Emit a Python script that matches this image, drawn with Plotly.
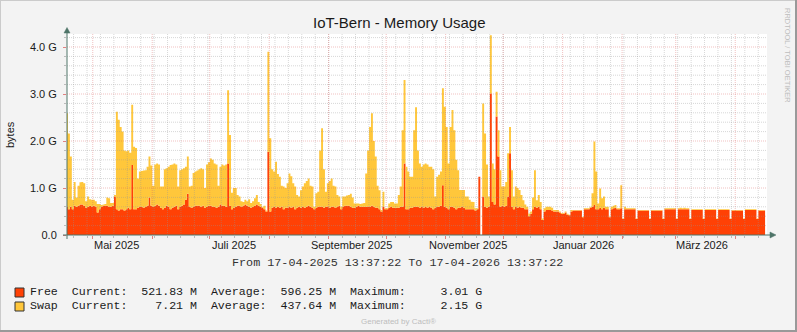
import pandas as pd
import plotly.graph_objects as go

# ---------------- data (values in G) ----------------
start_time = "2025-04-17 13:37:22"
end_time = "2026-04-17 13:37:22"

free_g = [
    0.60, 0.55, 0.60, 0.55, 0.62, 0.60, 0.62, 0.65, 0.65, 0.62,
    0.58, 0.60, 0.62, 0.60, 0.62, 0.60, 0.48, 0.55, 0.60, 0.62,
    0.62, 0.62, 0.60, 0.60, 0.62, 0.82, 0.55, 0.52, 0.55, 0.55,
    0.52, 0.55, 0.58, 0.55, 1.49, 0.55, 0.55, 0.58, 0.60, 0.60,
    0.58, 0.60, 0.62, 0.80, 0.62, 0.60, 0.62, 0.65, 0.62, 0.58,
    0.55, 0.58, 0.62, 0.60, 0.55, 0.58, 0.60, 0.62, 0.55, 0.60,
    0.62, 0.65, 0.75, 0.88, 0.60, 0.58, 0.60, 0.62, 0.62, 0.62,
    0.60, 0.62, 0.58, 0.60, 0.62, 0.62, 0.60, 0.60, 0.58, 0.60,
    0.65, 0.62, 0.62, 0.60, 1.52, 0.62, 0.55, 0.58, 0.60, 0.62,
    0.62, 0.60, 0.62, 0.65, 0.62, 0.60, 0.58, 0.60, 0.62, 0.65,
    0.62, 0.60, 0.58, 0.55, 0.50, 1.77, 0.50, 0.58, 0.60, 0.58,
    0.60, 0.58, 0.60, 0.55, 0.58, 0.58, 0.60, 0.58, 0.60, 0.55,
    0.58, 0.60, 0.58, 0.60, 0.58, 0.60, 0.62, 0.60, 0.58, 0.55,
    0.58, 0.60, 0.60, 0.60, 0.58, 0.60, 0.60, 0.58, 0.60, 0.60,
    0.58, 0.60, 0.62, 0.55, 0.60, 0.62, 0.62, 0.62, 0.60, 0.58,
    0.58, 0.60, 0.62, 0.60, 0.60, 0.60, 0.60, 0.60, 0.60, 0.62,
    0.60, 0.58, 0.58, 0.55, 0.50, 0.60, 0.55, 0.55, 0.58, 0.60,
    0.58, 0.58, 0.58, 0.58, 0.60, 0.60, 1.52, 0.55, 0.55, 0.58,
    0.58, 0.60, 0.60, 0.60, 0.58, 0.60, 0.58, 0.60, 0.58, 0.60,
    0.58, 0.55, 0.58, 0.60, 0.60, 0.62, 1.06, 0.60, 0.58, 0.55,
    0.60, 0.60, 0.58, 0.55, 0.58, 0.58, 0.60, 0.58, 0.55, 0.55,
    0.55, 0.55, 0.55, 0.52, 0.55, 1.24, None, 0.82, 0.60, 0.58,
    0.60, 3.01, 0.70, 0.65, 2.52, 1.67, 0.60, 0.62, 0.60, 0.62,
    0.82, 1.74, 0.60, 0.55, 0.60, 0.58, 0.60, 0.58, 0.58, 0.55,
    0.55, 0.40, 0.45, 0.55, 0.60, 0.58, 0.60, 0.55, 0.32, 0.50,
    0.53, 0.53, 0.53, 0.52, 0.50, 0.50, 0.50, 0.48, 0.45, 0.45,
    0.48, 0.43, 0.42, 0.50, 0.52, 0.52, 0.52, 0.52, 0.52, 0.38,
    0.55, 0.55, 0.55, 0.58, 0.60, 0.64, 0.55, 0.55, 0.58, 0.55,
    0.58, 0.55, 0.55, 0.38, 0.55, 0.57, 0.58, 0.55, 0.55, 0.57,
    0.34, 0.55, 0.55, 0.55, 0.55, 0.55, 0.55, 0.34, 0.52, 0.52,
    0.52, 0.52, 0.52, 0.52, 0.34, 0.52, 0.52, 0.52, 0.52, 0.52,
    0.52, 0.34, 0.55, 0.55, 0.55, 0.55, 0.55, 0.55, 0.34, 0.55,
    0.55, 0.55, 0.55, 0.55, 0.55, 0.34, 0.53, 0.53, 0.53, 0.53,
    0.53, 0.53, 0.34, 0.53, 0.53, 0.53, 0.53, 0.53, 0.53, 0.34,
    0.53, 0.53, 0.53, 0.53, 0.53, 0.53, 0.34, 0.52, 0.52, 0.52,
    0.52, 0.52, 0.52, 0.34, 0.53, 0.53, 0.53, 0.53, 0.53, 0.53,
    0.34, 0.52, 0.52, 0.52, 0.522,
]

swap_g = [
    1.99, 1.61, 1.07, 0.20, 0.51, 0.20, 0.43, 0.47, 0.48, 0.48,
    0.14, 0.22, 0.14, 0.15, 0.13, 0.12, 0.18, 0.11, 0.04, 0.03,
    0.04, 0.18, 0.18, 0.08, 0.06, 0.03, 2.07, 1.93, 1.75, 1.65,
    1.28, 1.23, 1.22, 1.20, 1.28, 1.33, 1.30, 0.62, 0.75, 0.76,
    0.79, 0.78, 0.83, 0.87, 0.86, 0.45, 0.88, 0.87, 0.88, 0.45,
    0.48, 0.82, 0.80, 0.85, 0.94, 0.92, 0.92, 0.88, 0.48, 0.78,
    0.78, 0.77, 0.70, 0.79, 0.43, 0.47, 0.72, 0.73, 0.75, 0.78,
    0.82, 0.78, 0.42, 0.90, 0.93, 1.01, 1.00, 0.92, 0.92, 0.45,
    0.80, 0.88, 0.86, 0.90, 1.56, 1.51, 0.35, 0.42, 0.40, 0.23,
    0.20, 0.12, 0.08, 0.10, 0.10, 0.16, 0.10, 0.12, 0.16, 0.20,
    0.08, 0.06, 0.02, 0.07, 0.02, 2.13, 1.56, 0.82, 0.75, 0.98,
    0.70, 0.66, 0.45, 0.48, 0.42, 0.52, 0.71, 0.67, 0.50, 0.48,
    0.27, 0.22, 0.37, 0.43, 0.52, 0.55, 0.58, 0.45, 0.45, 0.05,
    0.31, 0.32, 1.20, 1.67, 0.82, 0.32, 0.50, 0.57, 0.60, 0.45,
    0.45, 0.25, 0.20, 0.05, 0.22, 0.20, 0.22, 0.23, 0.28, 0.22,
    0.09, 0.07, 0.05, 0.06, 0.07, 0.08, 0.71, 1.20, 1.70, 1.97,
    1.40, 1.09, 0.47, 0.40, 0.03, 0.32, 0.02, 0.02, 0.09, 0.10,
    0.12, 0.09, 0.09, 0.27, 0.43, 1.63, 1.78, 0.90, 0.80, 0.66,
    0.66, 1.63, 2.12, 1.20, 0.94, 0.85, 0.92, 0.92, 0.92, 0.85,
    0.87, 0.85, 0.24, 0.64, 0.68, 0.73, 2.06, 2.13, 1.72, 0.97,
    1.70, 2.06, 1.65, 1.05, 0.80, 0.38, 0.36, 0.38, 0.27, 0.27,
    0.20, 0.16, 0.15, 0.05, 0.02, 0.00, None, 1.98, 1.56, 0.92,
    0.22, 1.24, 0.82, 0.75, 0.53, 0.56, 0.78, 0.41, 0.43, 0.51,
    0.92, 0.56, 0.78, 0.27, 0.43, 0.42, 0.36, 0.27, 0.16, 0.10,
    0.05, 0.06, 0.05, 0.25, 0.78, 0.16, 0.25, 0.15, 0.03, 0.07,
    0.07, 0.07, 0.07, 0.06, 0.03, 0.03, 0.03, 0.02, 0.02, 0.02,
    0.02, 0.02, 0.01, 0.03, 0.01, 0.01, 0.01, 0.01, 0.01, 0.01,
    0.02, 0.02, 0.02, 0.02, 0.29, 1.35, 0.80, 0.12, 0.41, 0.23,
    0.24, 0.05, 0.05, 0.01, 0.05, 0.05, 0.06, 0.02, 0.02, 0.49,
    0.01, 0.05, 0.02, 0.02, 0.02, 0.02, 0.02, 0.01, 0.01, 0.01,
    0.01, 0.01, 0.01, 0.01, 0.01, 0.01, 0.01, 0.01, 0.01, 0.01,
    0.01, 0.01, 0.02, 0.02, 0.02, 0.02, 0.02, 0.02, 0.01, 0.02,
    0.03, 0.02, 0.03, 0.02, 0.02, 0.01, 0.02, 0.02, 0.02, 0.02,
    0.02, 0.02, 0.01, 0.02, 0.02, 0.02, 0.02, 0.02, 0.02, 0.01,
    0.02, 0.02, 0.02, 0.02, 0.02, 0.02, 0.01, 0.01, 0.01, 0.01,
    0.01, 0.01, 0.01, 0.01, 0.02, 0.02, 0.02, 0.02, 0.02, 0.02,
    0.01, 0.01, 0.01, 0.01, 0.0072,
]

y_tickvals = [0, 1, 2, 3, 4]
y_ticktext = ["0.0", "1.0 G", "2.0 G", "3.0 G", "4.0 G"]

month_labels = ["Mai 2025", "Juli 2025", "September 2025", "November 2025", "Januar 2026", "März 2026"]
month_label_pos = ["2025-05-13 14:00", "2025-07-13 18:00", "2025-09-12 16:00",
                   "2025-11-12 16:00", "2026-01-11 20:00", "2026-03-14 20:00"]

legend_rows = [
    ("Free", "#FF4105", "Free  Current:  521.83 M  Average:  596.25 M  Maximum:     3.01 G"),
    ("Swap", "#FFC73B", "Swap  Current:    7.21 M  Average:  437.64 M  Maximum:     2.15 G"),
]

# ---------------- layout geometry ----------------
W, H = 797, 332
L, R, T, B = 67, 767, 34, 235
Y_MAX = (B - T) / 47.0


def xp(px):
    return (px - L) / (R - L)


def yp(py):
    return (B - py) / (B - T)


dates = pd.date_range(start_time, periods=len(free_g), freq="D")

fig = go.Figure()
fig.add_trace(go.Scatter(
    x=dates, y=free_g, stackgroup="one", mode="lines",
    line=dict(width=0, shape="hvh", color="#FF4105"),
    fillcolor="#FF4105", hoverinfo="skip", name="Free"))
fig.add_trace(go.Scatter(
    x=dates, y=swap_g, stackgroup="one", mode="lines",
    line=dict(width=0, shape="hvh", color="#FFC73B"),
    fillcolor="#FFC73B", hoverinfo="skip", name="Swap"))

MINOR_C = "rgba(150,150,150,0.38)"
MAJOR_C = "rgba(215,90,90,0.38)"
DASH = "1px,1px"

shapes = []
# weekly minor grid
for d in pd.date_range("2025-04-21", end_time, freq="7D"):
    shapes.append(dict(type="line", xref="x", yref="paper", x0=d, x1=d, y0=0, y1=1,
                       line=dict(color=MINOR_C, width=1, dash=DASH), layer="above"))
# monthly major grid
for d in pd.date_range("2025-05-01", end_time, freq="MS"):
    shapes.append(dict(type="line", xref="x", yref="paper", x0=d, x1=d, y0=0, y1=1,
                       line=dict(color=MAJOR_C, width=1, dash=DASH), layer="above"))
# horizontal grid
for i in range(1, 22):
    v = i * 0.2
    major = (i % 5 == 0)
    shapes.append(dict(type="line", xref="paper", yref="y", x0=0, x1=1, y0=v, y1=v,
                       line=dict(color=MAJOR_C if major else MINOR_C, width=1, dash=DASH),
                       layer="above"))

AX = "#4E7468"
# axes with arrows
shapes.append(dict(type="line", xref="paper", yref="paper", x0=xp(63), x1=xp(771),
                   y0=0, y1=0, line=dict(color=AX, width=1), layer="above"))
shapes.append(dict(type="line", xref="paper", yref="paper", x0=0, x1=0,
                   y0=yp(239), y1=yp(32), line=dict(color=AX, width=1), layer="above"))
shapes.append(dict(type="path", xref="paper", yref="paper",
                   path=f"M {xp(770)},{yp(232)} L {xp(776)},{yp(235)} L {xp(770)},{yp(238)} Z",
                   fillcolor=AX, line=dict(color=AX, width=0.5), layer="above"))
shapes.append(dict(type="path", xref="paper", yref="paper",
                   path=f"M {xp(64)},{yp(33)} L {xp(67)},{yp(27.5)} L {xp(70)},{yp(33)} Z",
                   fillcolor=AX, line=dict(color=AX, width=0.5), layer="above"))

# frame of the whole image
shapes.append(dict(type="line", xref="paper", yref="paper", x0=xp(0), x1=xp(W),
                   y0=yp(0.5), y1=yp(0.5), line=dict(color="#CBCBCB", width=1)))
shapes.append(dict(type="line", xref="paper", yref="paper", x0=xp(0.5), x1=xp(0.5),
                   y0=yp(0), y1=yp(H), line=dict(color="#CBCBCB", width=1)))
shapes.append(dict(type="line", xref="paper", yref="paper", x0=xp(0), x1=xp(W),
                   y0=yp(H - 1), y1=yp(H - 1), line=dict(color="#999999", width=2)))
shapes.append(dict(type="line", xref="paper", yref="paper", x0=xp(W - 1), x1=xp(W - 1),
                   y0=yp(0), y1=yp(H), line=dict(color="#999999", width=2)))

# legend swatches
for i, (name, col, _) in enumerate(legend_rows):
    top = 288 + i * 14
    shapes.append(dict(type="rect", xref="paper", yref="paper",
                       x0=xp(15), x1=xp(24), y0=yp(top), y1=yp(top + 9),
                       fillcolor=col, line=dict(color="#333333", width=1)))

SANS = "Liberation Sans, Arial, sans-serif"
MONO = "Liberation Mono, Courier New, monospace"
annotations = []
annotations.append(dict(text="IoT-Bern - Memory Usage", xref="paper", yref="paper",
                        x=xp(399), y=yp(22), showarrow=False, xanchor="center", yanchor="middle",
                        font=dict(family=SANS, size=15, color="#1a1a1a")))
annotations.append(dict(text="bytes", xref="paper", yref="paper", x=xp(10), y=yp(135),
                        showarrow=False, textangle=-90, xanchor="center", yanchor="middle",
                        font=dict(family=SANS, size=11, color="#1a1a1a")))
annotations.append(dict(text="RRDTOOL / TOBI OETIKER", xref="paper", yref="paper",
                        x=xp(787), y=yp(56), showarrow=False, textangle=90,
                        xanchor="center", yanchor="middle",
                        font=dict(family=SANS, size=7.5, color="#BDBDBD")))
for lab, pos in zip(month_labels, month_label_pos):
    annotations.append(dict(text=lab, xref="x", yref="paper", x=pos, y=yp(245),
                            showarrow=False, xanchor="center", yanchor="middle",
                            font=dict(family=SANS, size=11, color="#1a1a1a")))
annotations.append(dict(
    text=f"From {pd.Timestamp(start_time):%d-%m-%Y %H:%M:%S} To {pd.Timestamp(end_time):%d-%m-%Y %H:%M:%S}"
    .replace(" ", "\u00a0"),
    xref="paper", yref="paper", x=xp(397.5), y=yp(263), showarrow=False,
    xanchor="center", yanchor="middle", font=dict(family=MONO, size=11.75, color="#333333")))
for i, (_, _, txt) in enumerate(legend_rows):
    annotations.append(dict(text=txt.replace(" ", "\u00a0"), xref="paper", yref="paper",
                            x=xp(27.5), y=yp(291 + i * 14), showarrow=False,
                            xanchor="left", yanchor="middle",
                            font=dict(family=MONO, size=11.6, color="#1a1a1a")))
annotations.append(dict(text="Generated by Cacti®", xref="paper", yref="paper",
                        x=xp(398), y=yp(321.5), showarrow=False, xanchor="center",
                        yanchor="middle", font=dict(family=SANS, size=8, color="#BDBDBD")))

fig.update_layout(
    width=W, height=H, autosize=False,
    margin=dict(l=L, r=W - R, t=T, b=H - B, pad=0),
    paper_bgcolor="#F3F3F3", plot_bgcolor="#FFFFFF",
    showlegend=False,
    shapes=shapes, annotations=annotations,
    xaxis=dict(
        type="date", range=[start_time, end_time], showgrid=False, zeroline=False,
        showline=False, showticklabels=False,
        ticks="outside", ticklen=3, tickcolor="#E08080", tick0="2025-05-01", dtick="M1",
        minor=dict(ticks="outside", ticklen=2, tickcolor="#BBBBBB",
                   tick0="2025-04-21", dtick=7 * 86400000),
        fixedrange=True,
    ),
    yaxis=dict(
        range=[0, Y_MAX], showgrid=False, zeroline=False, showline=False,
        tickmode="array", tickvals=y_tickvals, ticktext=y_ticktext,
        ticks="outside", ticklen=3, tickcolor="#E08080", ticklabelstandoff=4,
        minor=dict(ticks="outside", ticklen=2, tickcolor="#BBBBBB", tick0=0, dtick=0.2),
        tickfont=dict(family=SANS, size=11, color="#1a1a1a"),
        fixedrange=True,
    ),
)

fig.write_html("out.html")
